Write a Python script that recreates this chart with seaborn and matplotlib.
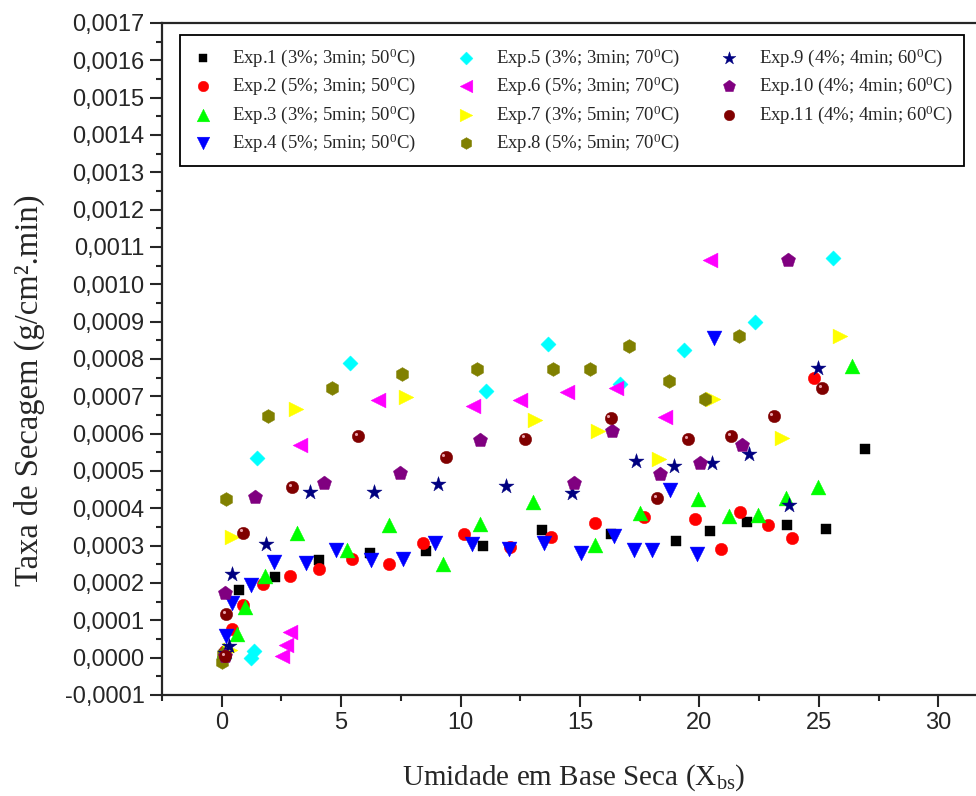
import numpy as np
import pandas as pd
import matplotlib
matplotlib.use('Agg')
import matplotlib.pyplot as plt
import matplotlib.transforms as mtransforms
from matplotlib.ticker import MultipleLocator, FuncFormatter
import seaborn as sns

# Exp.1 (3%; 3min; 50C)
x_exp1 = [0.1, 0.71, 2.24, 4.06, 6.19, 8.56, 10.95, 13.43, 16.28, 19.04, 20.46, 22.0, 23.68, 25.31, 26.95]
y_exp1 = [0.00001, 0.000182, 0.000217, 0.000262, 0.000281, 0.000286, 0.000298, 0.000342, 0.000332,
          0.000313, 0.000340, 0.000364, 0.000356, 0.000345, 0.000559]
# Exp.2 (5%; 3min; 50C)
x_exp2 = [0.13, 0.45, 0.91, 1.73, 2.85, 4.08, 5.45, 7.0, 8.41, 10.13, 12.06, 13.77, 15.61, 17.7,
          19.82, 20.89, 21.72, 22.86, 23.86, 24.78]
y_exp2 = [0.000019, 0.000078, 0.000142, 0.000198, 0.000218, 0.000238, 0.000265, 0.000252, 0.000308,
          0.00033, 0.000297, 0.000323, 0.00036, 0.000378, 0.000371, 0.000291, 0.00039, 0.000356,
          0.000321, 0.000748]
# Exp.3 (3%; 5min; 50C)
x_exp3 = [0.08, 0.63, 0.97, 1.83, 3.17, 5.26, 7.02, 9.26, 10.81, 13.04, 15.65, 17.52, 19.93, 21.24,
          22.44, 23.61, 24.97, 26.41]
y_exp3 = [0.00002, 0.000064, 0.000136, 0.000219, 0.000333, 0.000288, 0.000356, 0.000251, 0.000358,
          0.000416, 0.000302, 0.000387, 0.000425, 0.00038, 0.000382, 0.000427, 0.000456, 0.000781]
# Exp.4 (5%; 5min; 50C)
x_exp4 = [0.17, 0.45, 1.21, 2.2, 3.52, 4.8, 6.26, 7.57, 8.92, 10.46, 12.02, 13.5, 15.05, 16.44,
          17.28, 18.02, 18.76, 19.9, 20.6]
y_exp4 = [0.000057, 0.000147, 0.000195, 0.000257, 0.000253, 0.000289, 0.000262, 0.000264, 0.000306,
          0.000305, 0.000291, 0.000306, 0.00028, 0.000327, 0.000289, 0.000289, 0.000449, 0.000277,
          0.000857]
# Exp.5 (3%; 3min; 70C)
x_exp5 = [0.1, 1.21, 1.34, 1.49, 5.37, 11.05, 13.66, 16.69, 19.34, 22.34, 25.58]
y_exp5 = [0.0, 0.0, 0.000019, 0.000536, 0.000788, 0.000715, 0.00084, 0.000733, 0.000825, 0.0009, 0.00107]
# Exp.6 (5%; 3min; 70C)
x_exp6 = [2.54, 2.68, 2.86, 3.28, 6.54, 10.53, 12.48, 14.45, 16.5, 18.56, 20.43]
y_exp6 = [0.0000035, 0.000033, 0.00007, 0.00057, 0.00069, 0.000674, 0.00069, 0.000711, 0.000721,
          0.000644, 0.001066]
# Exp.7 (3%; 5min; 70C)
x_exp7 = [0.35, 0.45, 3.1, 7.73, 13.1, 15.74, 18.3, 20.57, 23.46, 25.9]
y_exp7 = [0.00002, 0.000324, 0.000665, 0.000699, 0.000636, 0.000608, 0.000533, 0.000694, 0.000589,
          0.000861]
# Exp.8 (5%; 5min; 70C)
x_exp8 = [0.02, 0.04, 0.17, 1.94, 4.6, 7.56, 10.67, 13.86, 15.44, 17.04, 18.72, 20.25, 21.67]
y_exp8 = [-0.000011, 0.000011, 0.000425, 0.000648, 0.000721, 0.000761, 0.000773, 0.000773, 0.000774,
          0.000834, 0.000741, 0.000693, 0.000862]
# Exp.9 (4%; 4min; 60C)
x_exp9 = [0.13, 0.31, 0.45, 1.84, 3.69, 6.38, 9.07, 11.92, 14.67, 17.36, 18.95, 20.53, 22.09, 23.74, 24.97]
y_exp9 = [0.000013, 0.00003, 0.000225, 0.000305, 0.000445, 0.000443, 0.000466, 0.000461, 0.00044,
          0.000527, 0.000514, 0.000521, 0.000545, 0.000409, 0.000776]
# Exp.10 (4%; 4min; 60C)
x_exp10 = [0.15, 0.15, 1.38, 4.28, 7.45, 10.8, 14.74, 16.35, 18.37, 20.04, 21.79, 23.71]
y_exp10 = [0.000005, 0.000173, 0.000431, 0.000467, 0.000495, 0.000583, 0.000469, 0.000607, 0.000491,
           0.000521, 0.00057, 0.001066]
# Exp.11 (4%; 4min; 60C)
x_exp11 = [0.13, 0.17, 0.91, 2.96, 5.72, 9.37, 12.69, 16.28, 18.23, 19.53, 21.33, 23.11, 25.13]
y_exp11 = [0.0000035, 0.000117, 0.000335, 0.000456, 0.000594, 0.000538, 0.000587, 0.000641, 0.000427,
           0.000586, 0.000594, 0.000647, 0.000721]

labels = [
    r'Exp.1 (3%; 3min; 50$^{\mathrm{0}}$C)',
    r'Exp.2 (5%; 3min; 50$^{\mathrm{0}}$C)',
    r'Exp.3 (3%; 5min; 50$^{\mathrm{0}}$C)',
    r'Exp.4 (5%; 5min; 50$^{\mathrm{0}}$C)',
    r'Exp.5 (3%; 3min; 70$^{\mathrm{0}}$C)',
    r'Exp.6 (5%; 3min; 70$^{\mathrm{0}}$C)',
    r'Exp.7 (3%; 5min; 70$^{\mathrm{0}}$C)',
    r'Exp.8 (5%; 5min; 70$^{\mathrm{0}}$C)',
    r'Exp.9 (4%; 4min; 60$^{\mathrm{0}}$C)',
    r'Exp.10 (4%; 4min; 60$^{\mathrm{0}}$C)',
    r'Exp.11 (4%; 4min; 60$^{\mathrm{0}}$C)',
]
xs = [x_exp1, x_exp2, x_exp3, x_exp4, x_exp5, x_exp6, x_exp7, x_exp8, x_exp9, x_exp10, x_exp11]
ys = [y_exp1, y_exp2, y_exp3, y_exp4, y_exp5, y_exp6, y_exp7, y_exp8, y_exp9, y_exp10, y_exp11]

colors = ['#000000', '#ff0000', '#00ff00', '#0000ff', '#00ffff', '#ff00ff',
          '#ffff00', '#808000', '#000080', '#800080', '#800000']
markers = ['s', 'o', '^', 'v', 'D', '<', '>', 'h', '*', 'p', 'o']
sizes = [55, 80, 115, 115, 60, 115, 115, 100, 130, 115, 80]

sns.set_style('ticks')
plt.rcParams['font.family'] = ['Liberation Sans', 'DejaVu Sans']
plt.rcParams['mathtext.fontset'] = 'custom'
plt.rcParams['mathtext.rm'] = 'Liberation Serif'
plt.rcParams['mathtext.it'] = 'Liberation Serif:italic'

fig = plt.figure(figsize=(9.76, 7.96), dpi=100)
ax = fig.add_axes([162 / 976, 1 - 695 / 796, (986 - 162) / 976, (695 - 23) / 796])

for i in range(11):
    df = pd.DataFrame({'x': xs[i], 'y': ys[i]})
    sns.scatterplot(data=df, x='x', y='y', ax=ax, color=colors[i], marker=markers[i],
                    s=sizes[i], edgecolor=colors[i], linewidth=0.3, label=labels[i], zorder=3 + i)

# little highlight on the dark red spheres
hl = mtransforms.offset_copy(ax.transData, fig=fig, x=-1.6, y=1.6, units='points')
ax.scatter(x_exp11, y_exp11, s=5, color='#e8a0a8', transform=hl, zorder=20, linewidth=0)

ax.set_xlim(-2.5, 32)
ax.set_ylim(-0.0001, 0.0017)
ax.xaxis.set_major_locator(MultipleLocator(5))
ax.xaxis.set_minor_locator(MultipleLocator(2.5))
ax.yaxis.set_major_locator(MultipleLocator(0.0001))
ax.yaxis.set_minor_locator(MultipleLocator(0.00005))
ax.yaxis.set_major_formatter(FuncFormatter(lambda v, p: f'{v:.4f}'.replace('.', ',')))

for s in ax.spines.values():
    s.set_linewidth(1.6)
ax.tick_params(axis='both', which='major', direction='out', length=8.5, width=1.5,
               labelsize=17, pad=4)
ax.tick_params(axis='both', which='minor', direction='out', length=4, width=1.5)
ax.tick_params(top=False, right=False, which='both')

ax.set_xlabel(r'Umidade em Base Seca (X$_{\mathrm{bs}}$)', family='Liberation Serif',
              fontsize=21, labelpad=20)
ax.set_ylabel('Taxa de Secagem (g/cm\u00b2.min)', family='Liberation Serif', fontsize=23.5)
ax.yaxis.set_label_coords((45 - 162) / 824, (695 - 390) / 672)

leg = ax.legend(loc='upper left', bbox_to_anchor=(180 / 976, 1 - 35 / 796),
                bbox_transform=fig.transFigure, borderaxespad=0, ncol=3,
                prop={'family': 'Liberation Serif', 'size': 13.5},
                frameon=True, fancybox=False, shadow=False, framealpha=1,
                edgecolor='black', handlelength=1.2, handletextpad=1.0,
                columnspacing=2.0, labelspacing=0.32, borderpad=0.6, markerscale=0.85)
leg.get_frame().set_linewidth(1.3)

fig.savefig('out.png', dpi=100)
